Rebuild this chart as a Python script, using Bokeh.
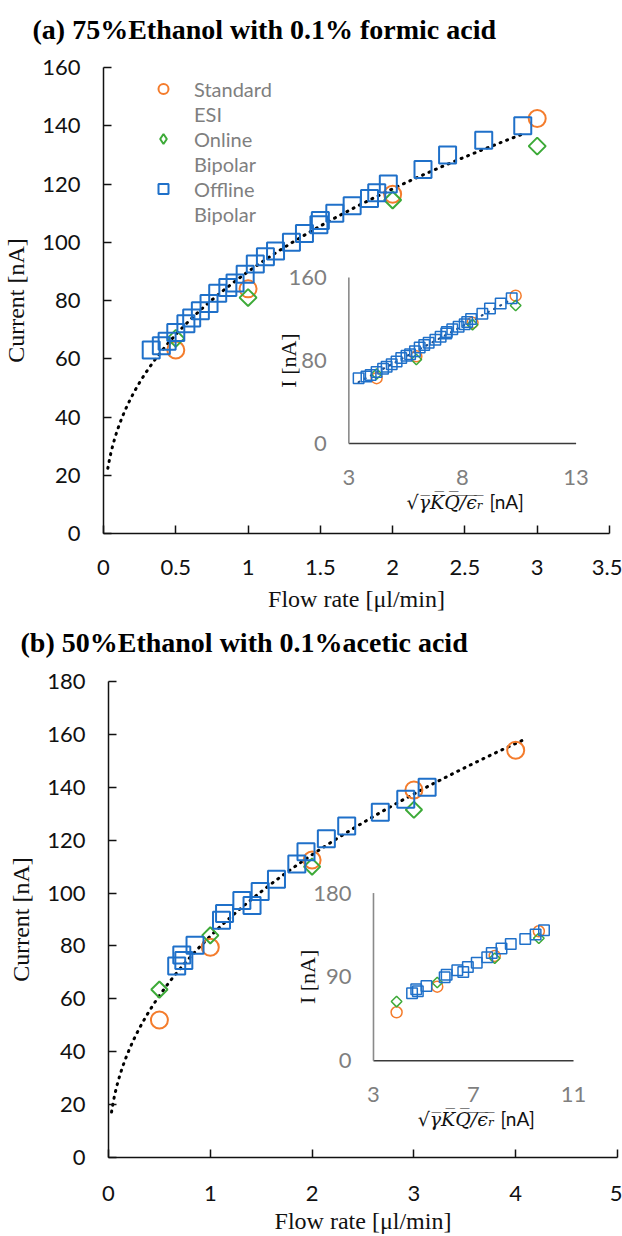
import numpy as np
from bokeh.plotting import figure
from bokeh.models import Range1d, FixedTicker, NumeralTickFormatter, Legend, LegendItem, Label
from bokeh.layouts import column
from bokeh.embed import file_html
from bokeh.resources import INLINE
from bokeh.core.properties import value

# ---------------- data: panel (a) ----------------
a_std_q = [0.5, 1.0, 2.0, 3.0]
a_std_i = [63.0, 84.0, 116.5, 142.5]
a_onl_q = [0.5, 1.0, 2.0, 3.0]
a_onl_i = [67.0, 81.0, 114.5, 133.0]
a_off_q = [0.33, 0.40, 0.44, 0.50, 0.57, 0.61, 0.67, 0.73, 0.79, 0.86, 0.91, 0.98,
           1.05, 1.12, 1.19, 1.30, 1.39, 1.49, 1.50, 1.60, 1.72, 1.84, 1.89, 1.97,
           2.21, 2.38, 2.63, 2.90]
a_off_i = [63.0, 64.5, 66.0, 69.0, 72.0, 74.0, 76.5, 79.0, 82.5, 84.5, 86.0, 89.0,
           92.5, 95.0, 97.0, 100.0, 103.0, 106.0, 107.5, 110.0, 112.5, 115.0, 117.0, 120.0,
           125.0, 130.0, 135.0, 140.0]
a_inset_k = 5.97          # sqrt(gamma*K/eps_r) factor for the inset abscissa
a_trend_q = (0.03, 2.9)
a_xticks = [0, 0.5, 1, 1.5, 2, 2.5, 3, 3.5]
a_yticks = [0, 20, 40, 60, 80, 100, 120, 140, 160]
a_inset_xticks = [3, 8, 13]
a_inset_yticks = [0, 80, 160]

# ---------------- data: panel (b) ----------------
b_std_q = [0.5, 1.0, 2.0, 3.0, 4.0]
b_std_i = [52.0, 79.5, 112.5, 139.0, 154.0]
b_onl_q = [0.5, 1.0, 2.0, 3.0]
b_onl_i = [63.5, 84.0, 110.0, 131.5]
b_off_q = [0.67, 0.72, 0.74, 0.85, 1.11, 1.14, 1.31, 1.41, 1.49, 1.65, 1.85, 1.94,
           2.14, 2.34, 2.67, 2.92, 3.13]
b_off_i = [72.4, 76.6, 74.5, 80.3, 89.7, 92.3, 97.2, 95.3, 100.6, 105.2, 111.0, 115.6,
           120.5, 125.4, 130.6, 135.5, 140.0]
b_inset_k = 5.55
b_trend_q = (0.03, 4.1)
b_xticks = [0, 1, 2, 3, 4, 5]
b_yticks = [0, 20, 40, 60, 80, 100, 120, 140, 160, 180]
b_inset_xticks = [3, 7, 11]
b_inset_yticks = [0, 90, 180]

legend_lines = [("Standard", 0), ("ESI", None), ("Online", 1), ("Bipolar", None),
                ("Offline", 2), ("Bipolar", None)]
title_a = "(a) 75%Ethanol with 0.1% formic acid"
title_b = "(b) 50%Ethanol with 0.1%acetic acid"

# ---------------- styles ----------------
ORANGE = "#F47C2C"
GREEN = "#3DAA38"
BLUE = "#1F70C9"
TICK_FONT = "Lato"
SERIF = "Liberation Serif"
W = 622


def title_strip(text, height, x, y_from_top):
    t = figure(width=W, height=height, x_range=Range1d(0, W), y_range=Range1d(0, height),
               output_backend="svg", toolbar_location=None, x_axis_type=None,
               y_axis_type=None, min_border=0)
    t.frame_align = False
    t.outline_line_color = None
    t.grid.visible = False
    t.add_layout(Label(x=x, y=height - y_from_top, text=text, text_font=SERIF,
                       text_font_size="28px", text_font_style="bold", text_color="#000000",
                       text_align="left", text_baseline="middle"))
    return t


def make_main(height, xr, yr, xticks, yticks, borders, xstand):
    p = figure(width=W, height=height, x_range=Range1d(*xr), y_range=Range1d(*yr),
               output_backend="svg", toolbar_location=None,
               min_border_left=borders[0], min_border_right=borders[1],
               min_border_top=borders[2], min_border_bottom=borders[3])
    p.frame_align = False
    p.outline_line_color = None
    p.grid.visible = False
    for ax in (p.xaxis[0], p.yaxis[0]):
        ax.axis_line_color = "#111111"
        ax.axis_line_width = 1.5
        ax.major_tick_in = 8
        ax.major_tick_out = 0
        ax.major_tick_line_color = "#111111"
        ax.major_tick_line_width = 1.5
        ax.minor_tick_line_color = None
        ax.major_label_text_font = TICK_FONT
        ax.major_label_text_font_size = "22px"
        ax.major_label_text_color = "#111111"
        ax.axis_label_text_font = SERIF
        ax.axis_label_text_font_size = "24px"
        ax.axis_label_text_font_style = "normal"
        ax.axis_label_text_color = "#111111"
    p.xaxis.ticker = FixedTicker(ticks=xticks)
    p.yaxis.ticker = FixedTicker(ticks=yticks)
    p.xaxis.formatter = NumeralTickFormatter(format="0.[0]")
    p.yaxis.formatter = NumeralTickFormatter(format="0")
    p.xaxis.axis_label = "Flow rate [\u03bcl/min]"
    p.yaxis.axis_label = "Current [nA]"
    p.xaxis.major_label_standoff = xstand[0]
    p.xaxis.axis_label_standoff = xstand[1]
    p.yaxis.major_label_standoff = 23
    p.yaxis.axis_label_standoff = 10
    return p


def power_fit(qs, ys):
    b, ln_a = np.polyfit(np.log(qs), np.log(ys), 1)
    return np.exp(ln_a), b


def draw_series(g, std, onl, off, sizes, lw):
    rs = []
    rs.append(g.scatter(std[0], std[1], marker="circle", size=sizes[0], fill_color=None,
                        line_color=ORANGE, line_width=lw))
    rs.append(g.scatter(onl[0], onl[1], marker="square", angle=np.pi / 4, size=sizes[1],
                        fill_color=None, line_color=GREEN, line_width=lw))
    rs.append(g.scatter(off[0], off[1], marker="square", size=sizes[2], fill_color=None,
                        line_color=BLUE, line_width=lw))
    return rs


def draw_inset(p, k, std, onl, off, xr, yr, tx, ty, xticks, yticks, ylab_off, dotted):
    sub = p.subplot(x_source=Range1d(*xr), y_source=Range1d(*yr),
                    x_target=Range1d(*tx), y_target=Range1d(*ty))

    def tr(series):
        xs = k * np.sqrt(np.asarray(series[0], dtype=float))
        ys = np.asarray(series[1], dtype=float)
        m = (xs >= xr[0]) & (xs <= xr[1]) & (ys >= yr[0]) & (ys <= yr[1])
        return xs[m], ys[m]

    s_std, s_onl, s_off = tr(std), tr(onl), tr(off)
    sub.segment(x0=[xr[0]], y0=[yr[0]], x1=[xr[1]], y1=[yr[0]], line_color="#3a3a3a", line_width=1.6)
    sub.segment(x0=[xr[0]], y0=[yr[0]], x1=[xr[0]], y1=[yr[1]], line_color="#8a8a8a", line_width=1.6)
    if dotted:
        allx = np.concatenate([s_std[0], s_onl[0], s_off[0]])
        ally = np.concatenate([s_std[1], s_onl[1], s_off[1]])
        m, c = np.polyfit(allx, ally, 1)
        lx = np.array([s_off[0].min(), s_off[0].max()])
        sub.line(lx, m * lx + c, line_color="#1F4E8C", line_width=2.2, line_dash="1 6",
                 line_cap="round")
    draw_series(sub, s_std, s_onl, s_off, (11, 7.5, 10.5), 1.5)
    sub.text(x=xticks, y=[yr[0]] * len(xticks), text=[str(t) for t in xticks], y_offset=34,
             text_align="center", text_baseline="middle", text_font=value(TICK_FONT),
             text_font_size="22px", text_color="#7f7f7f")
    sub.text(x=[xr[0]] * len(yticks), y=yticks, text=[str(t) for t in yticks], x_offset=-22,
             text_align="right", text_baseline="middle", text_font=value(TICK_FONT),
             text_font_size="22px", text_color="#7f7f7f")
    ymid = (yr[0] + yr[1]) / 2
    sub.text(x=[xr[0]], y=[ymid], text=["I [nA]"], x_offset=ylab_off, angle=np.pi / 2,
             text_align="center", text_baseline="middle", text_font=value(SERIF),
             text_font_size="22px", text_color="#111111")
    xmid = (xr[0] + xr[1]) / 2
    formula = "\u221a" + "".join(ch + "\u0305" for ch in "\u03b3KQ/\u03f5\u1d63")
    sub.text(x=[xmid], y=[yr[0]], text=[formula], x_offset=21, y_offset=58,
             text_align="right", text_baseline="middle", text_font=value("DejaVu Serif"),
             text_font_style="italic", text_font_size="19px", text_color="#111111")
    sub.text(x=[xmid], y=[yr[0]], text=["[nA]"], x_offset=27, y_offset=58,
             text_align="left", text_baseline="middle", text_font=value(TICK_FONT),
             text_font_size="19px", text_color="#111111")


def trend(p, std, onl, off, qrange):
    a, b = power_fit(np.concatenate([std[0], onl[0], off[0]]),
                     np.concatenate([std[1], onl[1], off[1]]))
    qx = np.linspace(qrange[0], qrange[1], 300)
    p.line(qx, a * qx ** b, line_color="black", line_width=3, line_dash="1 6", line_cap="round")


# ---------------- panel (a) ----------------
ta = title_strip(title_a, 48, 32, 29)
A_std, A_onl, A_off = (a_std_q, a_std_i), (a_onl_q, a_onl_i), (a_off_q, a_off_i)
pa = make_main(580, (0, 3.5), (0, 160), a_xticks, a_yticks, (101, 13, 19, 95), (26, 8))
trend(pa, A_std, A_onl, A_off, a_trend_q)
ra = draw_series(pa, A_std, A_onl, A_off, (17, 12, 17), 2)
# legend swatch for the rotated-square (diamond) series: legends ignore marker angle,
# so a non-plotted (NaN) diamond renderer supplies the legend glyph
ra[1] = pa.scatter(x=[np.nan], y=[np.nan], marker="diamond", size=12, fill_color=None,
                   line_color=GREEN, line_width=2)
draw_inset(pa, a_inset_k, A_std, A_onl, A_off, (3, 13), (0, 160),
           (1.697, 3.269), (30.9, 87.9), a_inset_xticks, a_inset_yticks, -60, True)
items = []
for text, idx in legend_lines:
    items.append(LegendItem(label=text, renderers=[ra[idx]] if idx is not None else []))
legend = Legend(items=items, location=(44, 307), orientation="vertical",
                border_line_color=None, background_fill_alpha=0, padding=0, margin=0,
                spacing=0, glyph_width=32, glyph_height=25, label_height=25,
                label_standoff=15, label_text_font=TICK_FONT, label_text_font_size="20px",
                label_text_color="#7f7f7f")
pa.add_layout(legend, "center")

# ---------------- panel (b) ----------------
tb = title_strip(title_b, 36, 20, 14)
B_std, B_onl, B_off = (b_std_q, b_std_i), (b_onl_q, b_onl_i), (b_off_q, b_off_i)
pb = make_main(572, (0, 5), (0, 180), b_xticks, b_yticks, (108, 5, 17, 78), (28, 4))
trend(pb, B_std, B_onl, B_off, b_trend_q)
draw_series(pb, B_std, B_onl, B_off, (17, 11.5, 17), 2)
draw_inset(pb, b_inset_k, B_std, B_onl, B_off, (3, 11), (0, 180),
           (2.603, 4.568), (36.6, 100.0), b_inset_xticks, b_inset_yticks, -66, False)

layout = column(ta, pa, tb, pb, spacing=0)
open("out.html", "w").write(file_html(layout, INLINE))
